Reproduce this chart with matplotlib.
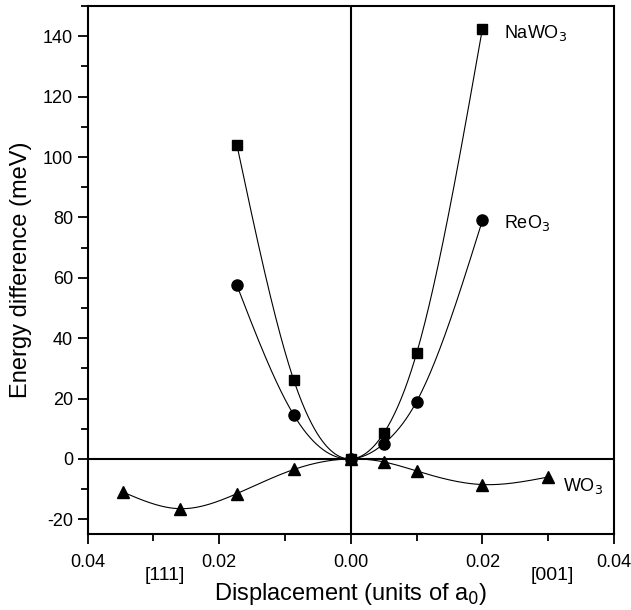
import numpy as np
import matplotlib
matplotlib.use("Agg")
import matplotlib.pyplot as plt
from matplotlib.ticker import MultipleLocator, FuncFormatter

plt.rcParams['font.family'] = ['Liberation Sans', 'DejaVu Sans']
plt.rcParams['axes.unicode_minus'] = False

# displacement, [111] side drawn as negative x
x_nawo3 = [-0.01732, -0.00866, 0.0, 0.005, 0.01, 0.02]
e_nawo3 = [104.0, 26.0, 0.0, 8.5, 35.0, 142.5]

x_reo3 = [-0.01732, -0.00866, 0.0, 0.005, 0.01, 0.02]
e_reo3 = [57.5, 14.5, 0.0, 5.0, 19.0, 79.0]

x_wo3 = [-0.03464, -0.02598, -0.01732, -0.00866, 0.0, 0.005, 0.01, 0.02, 0.03]
e_wo3 = [-11.0, -16.5, -11.5, -3.5, 0.0, -1.0, -4.0, -8.5, -6.0]


def spline(x, y, n=300):
    # natural cubic spline through the points
    x = np.asarray(x, float)
    y = np.asarray(y, float)
    k = len(x)
    h = np.diff(x)
    A = np.zeros((k, k))
    b = np.zeros(k)
    A[0, 0] = A[-1, -1] = 1.0
    for i in range(1, k - 1):
        A[i, i - 1] = h[i - 1]
        A[i, i] = 2 * (h[i - 1] + h[i])
        A[i, i + 1] = h[i]
        b[i] = 6 * ((y[i + 1] - y[i]) / h[i] - (y[i] - y[i - 1]) / h[i - 1])
    m = np.linalg.solve(A, b)
    xs = np.linspace(x[0], x[-1], n)
    idx = np.clip(np.searchsorted(x, xs) - 1, 0, k - 2)
    x0, x1 = x[idx], x[idx + 1]
    hh = x1 - x0
    t0, t1 = x1 - xs, xs - x0
    ys = (m[idx] * t0**3 + m[idx + 1] * t1**3) / (6 * hh) \
        + (y[idx] / hh - m[idx] * hh / 6) * t0 \
        + (y[idx + 1] / hh - m[idx + 1] * hh / 6) * t1
    return xs, ys


fig = plt.figure(figsize=(6.31, 6.10), dpi=100)
ax = fig.add_axes([0.139, 0.124, 0.834, 0.866])

ax.axhline(0, color='black', lw=1.5, zorder=1)
ax.axvline(0, color='black', lw=1.5, zorder=1)

for xv, yv, mk, ms in [(x_nawo3, e_nawo3, 's', 7),
                       (x_reo3, e_reo3, 'o', 8),
                       (x_wo3, e_wo3, '^', 8)]:
    xs, ys = spline(xv, yv)
    ax.plot(xs, ys, color='black', lw=0.8, zorder=2)
    ax.plot(xv, yv, mk, color='black', ms=ms, zorder=3)

ax.text(0.0233, 141, 'NaWO$_3$', fontsize=13, va='center')
ax.text(0.0233, 78, 'ReO$_3$', fontsize=13, va='center')
ax.text(0.0323, -9, 'WO$_3$', fontsize=13, va='center')

ax.set_xlim(-0.04, 0.04)
ax.set_ylim(-25, 150)
ax.xaxis.set_major_locator(MultipleLocator(0.02))
ax.xaxis.set_minor_locator(MultipleLocator(0.01))
ax.yaxis.set_major_locator(MultipleLocator(20))
ax.yaxis.set_minor_locator(MultipleLocator(10))
ax.xaxis.set_major_formatter(FuncFormatter(lambda v, p: '%.2f' % abs(v)))
ax.tick_params(which='both', direction='out', top=False, right=False,
               labelsize=13, width=1.3)
ax.tick_params(which='major', length=7)
ax.tick_params(which='minor', length=5)
ax.tick_params(axis='x', which='major', pad=7)
for s in ax.spines.values():
    s.set_linewidth(1.5)

ax.text(-0.0283, -38.5, '[111]', fontsize=14, ha='center', va='center')
ax.text(0.0307, -38.5, '[001]', fontsize=14, ha='center', va='center')

ax.set_xlabel('Displacement (units of a$_0$)', fontsize=17, labelpad=7)
ax.set_ylabel('Energy difference (meV)', fontsize=17, labelpad=8)

fig.savefig('out.png', dpi=100)
